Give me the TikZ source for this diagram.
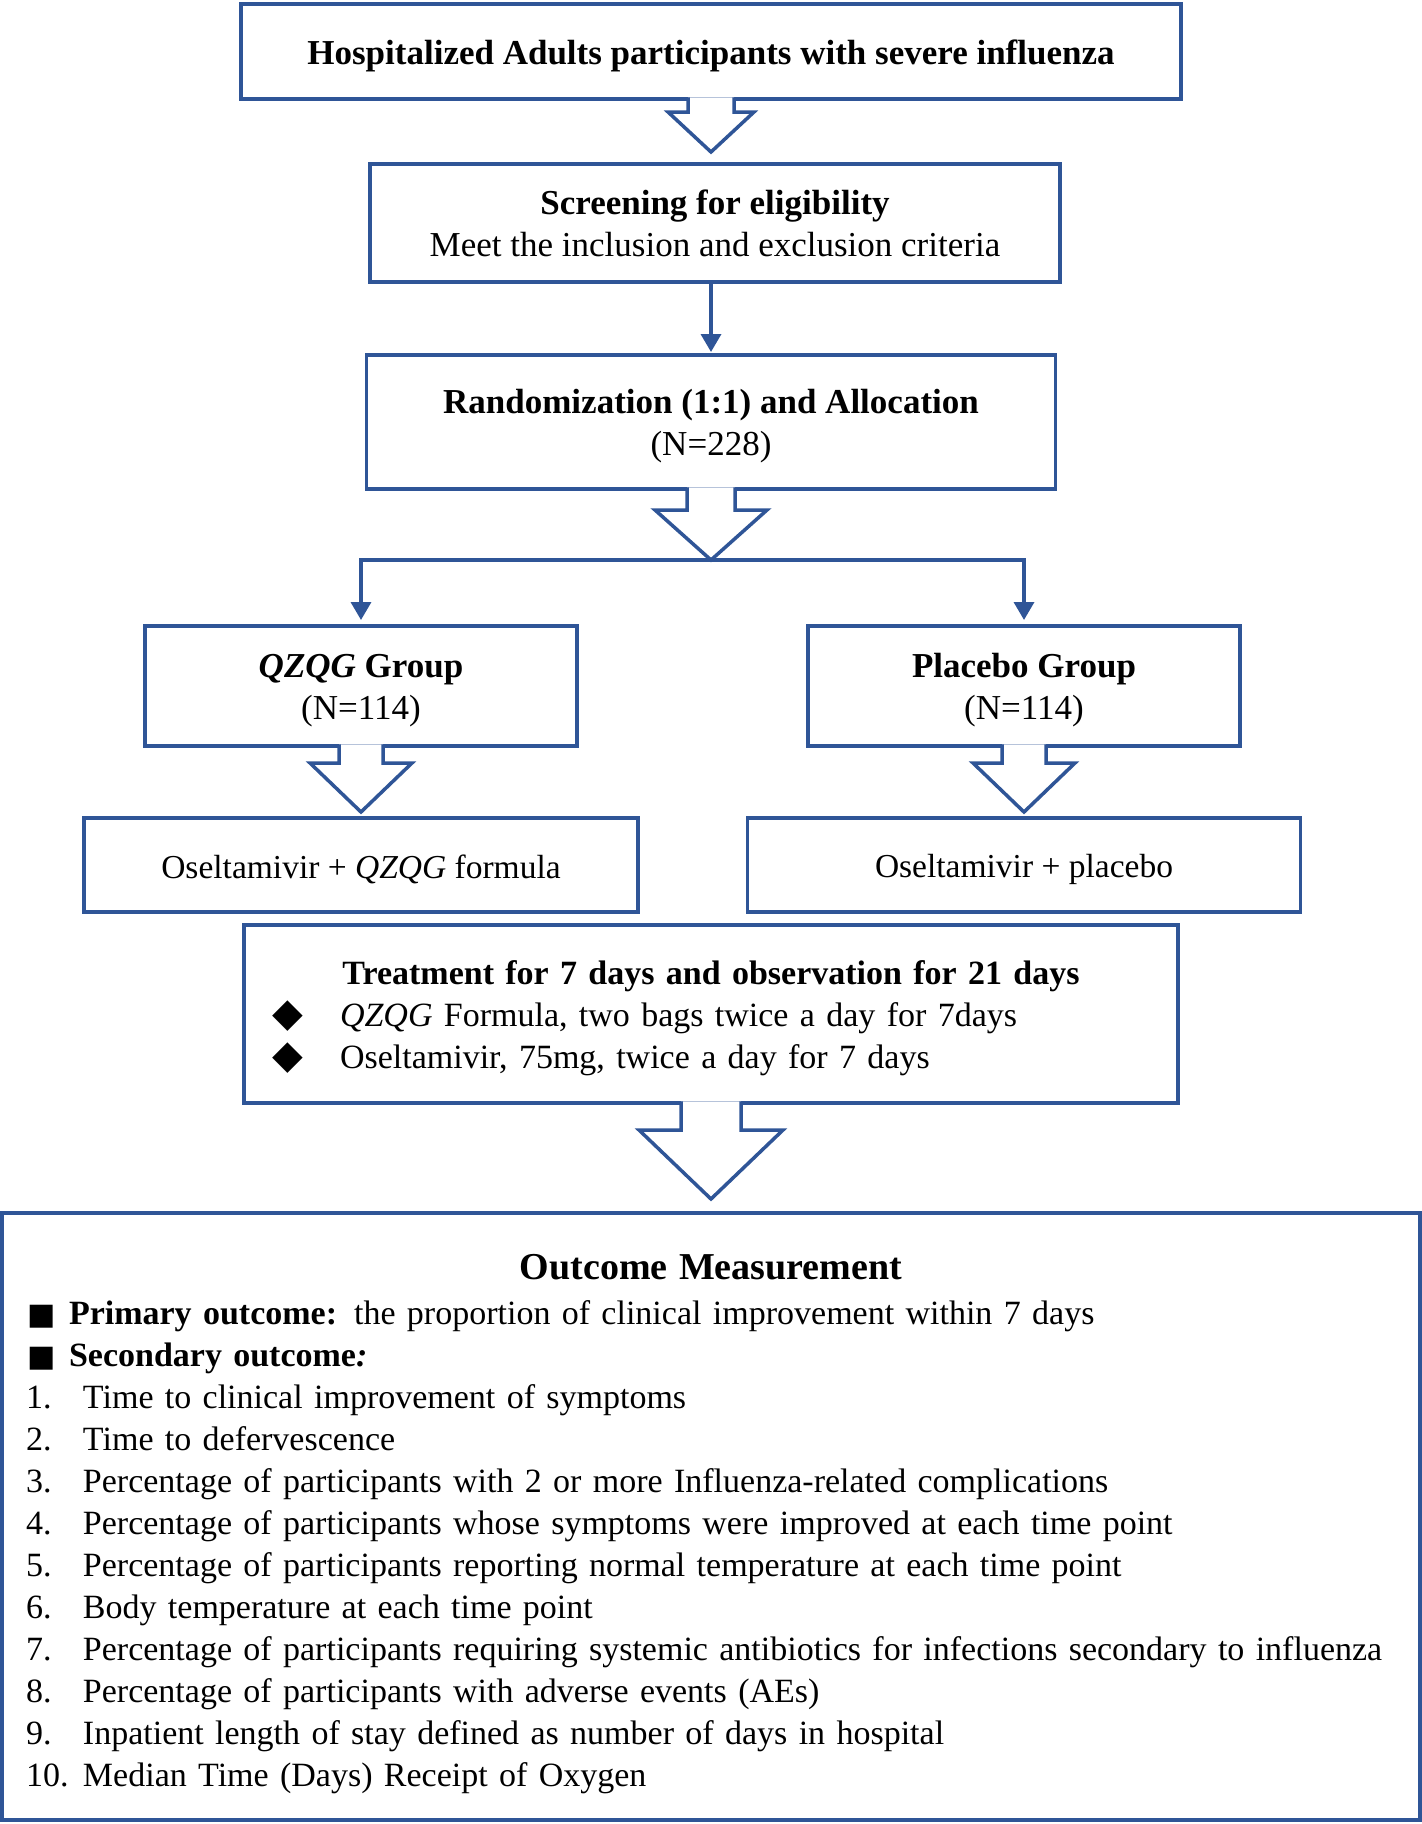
\documentclass[tikz,border=0pt]{standalone}
\usepackage{fontspec}
\setmainfont{Liberation Serif}
\newfontfamily\symfont{DejaVu Sans}
\usepackage{tikz}
\usetikzlibrary{positioning,calc,arrows.meta}
\definecolor{flowblue}{RGB}{47,85,151}
\tikzstyle{box}=[draw=flowblue, line width=3.5pt, outer sep=0pt, inner sep=0pt, align=center]
\tikzstyle{link}=[draw=flowblue, line width=3.5pt, -{Triangle[width=20pt,length=18pt]}]
\tikzstyle{fat}=[draw=flowblue, fill=white, line width=3.5pt, line join=miter]
\newcommand{\sqmark}{{\symfont\fontsize{30pt}{30pt}\selectfont ■}}
\newcommand{\dimark}{{\symfont\fontsize{40pt}{40pt}\selectfont ◆}}
\newcommand{\boxstrut}{\rule{0pt}{33pt}}
% hollow block arrow hanging below a box: from, tip, shaft half width, head half width, head length
\newcommand{\bigarrow}[5]{%
    \draw[fat] let \p1=(#1.south), \p2=(#2) in
        (\x1-#3,\y1+1.75pt) -- (\x1-#3,\y2+#5) -- (\x1-#4,\y2+#5) -- (\x1,\y2)
        -- (\x1+#4,\y2+#5) -- (\x1+#3,\y2+#5) -- (\x1+#3,\y1+1.75pt);}

\begin{document}
\begin{tikzpicture}[x=1pt,y=1pt,font=\fontsize{35pt}{42pt}\selectfont]

        \useasboundingbox (0,0) rectangle (1422,-1824);

        \node[box,
            minimum width=940pt,
            minimum height=95pt] (hosp) at (711,-51.5)
            {\boxstrut\textbf{Hospitalized Adults participants with severe influenza}};

        \node[box,
            below=65pt of hosp,
            xshift=4pt,
            minimum width=690pt,
            minimum height=118pt] (screen)
            {\textbf{Screening for eligibility}\\Meet the inclusion and exclusion criteria};

        \node[box,
            below=73pt of screen,
            xshift=-4pt,
            minimum width=689pt,
            minimum height=134pt] (rand)
            {\boxstrut\textbf{Randomization (1:1) and Allocation}\\(N=228)};

        \node[box,
            below=137pt of rand,
            xshift=-350pt,
            minimum width=432pt,
            minimum height=120pt] (qzqg)
            {\boxstrut\textbf{\textit{QZQG} Group}\\(N=114)};

        \node[box,
            below=137pt of rand,
            xshift=313pt,
            minimum width=432pt,
            minimum height=120pt] (placebo)
            {\boxstrut\textbf{Placebo Group}\\(N=114)};

        \node[box,
            below=72pt of qzqg,
            minimum width=554pt,
            minimum height=94pt,
            font=\fontsize{33.5pt}{42pt}\selectfont] (oselq)
            {\boxstrut Oseltamivir + \textit{QZQG} formula};

        \node[box,
            below=72pt of placebo,
            minimum width=553pt,
            minimum height=94pt,
            font=\fontsize{33.5pt}{42pt}\selectfont] (oselp)
            {\boxstrut Oseltamivir + placebo};

        \node[box,
            below=436pt of rand,
            minimum width=934pt,
            minimum height=178pt,
            text width=878pt,
            align=left,
            font=\fontsize{34pt}{42pt}\selectfont] (treat)
            {\makebox[\linewidth]{\rule{0pt}{33pt}\textbf{Treatment for 7 days and observation for 21 days}}\\
            \makebox[68pt][l]{\dimark}\textit{QZQG} Formula, two bags twice a day for 7days\\
            \makebox[68pt][l]{\dimark}Oseltamivir, 75mg, twice a day for 7 days};

        \node[box,
            below=110pt of treat,
            minimum width=1418pt,
            minimum height=607pt,
            text width=1380pt,
            align=left,
            font=\fontsize{34pt}{42pt}\selectfont] (outcome)
            {\makebox[\linewidth]{\rule{0pt}{39.5pt}\fontsize{38pt}{42pt}\selectfont\textbf{Outcome Measurement}}\\[3pt]
            \makebox[48pt][l]{\hspace{6pt}\sqmark}\textbf{Primary outcome:} the proportion of clinical improvement within 7 days\\
            \makebox[48pt][l]{\hspace{6pt}\sqmark}\textbf{Secondary outcome\textit{:}}\\
            \makebox[62pt][l]{\hspace{5pt}1.}Time to clinical improvement of symptoms\\
            \makebox[62pt][l]{\hspace{5pt}2.}Time to defervescence\\
            \makebox[62pt][l]{\hspace{5pt}3.}Percentage of participants with 2 or more Influenza-related complications\\
            \makebox[62pt][l]{\hspace{5pt}4.}Percentage of participants whose symptoms were improved at each time point\\
            \makebox[62pt][l]{\hspace{5pt}5.}Percentage of participants reporting normal temperature at each time point\\
            \makebox[62pt][l]{\hspace{5pt}6.}Body temperature at each time point\\
            \makebox[62pt][l]{\hspace{5pt}7.}Percentage of participants requiring systemic antibiotics for infections secondary to influenza\\
            \makebox[62pt][l]{\hspace{5pt}8.}Percentage of participants with adverse events (AEs)\\
            \makebox[62pt][l]{\hspace{5pt}9.}Inpatient length of stay defined as number of days in hospital\\
            \makebox[62pt][l]{\hspace{5pt}10.}Median Time (Days) Receipt of Oxygen};

        \coordinate[below=71pt of rand] (split);

% Arrows
        \draw[link, shorten >=6pt] (split) -| (qzqg);
        \draw[link, shorten >=6pt] (split) -| (placebo);
        \draw[link, shorten >=3pt] (screen.south -| rand) -- (rand);

        \bigarrow{hosp}{[yshift=12pt]screen.north}{23pt}{43pt}{40pt}
        \bigarrow{rand}{split}{24pt}{56pt}{50pt}
        \bigarrow{qzqg}{[yshift=6pt]oselq.north}{22pt}{51pt}{49pt}
        \bigarrow{placebo}{[yshift=6pt]oselp.north}{22pt}{51pt}{49pt}
        \bigarrow{treat}{[yshift=14pt]outcome.north}{30pt}{72pt}{69pt}

    \end{tikzpicture}
\end{document}
